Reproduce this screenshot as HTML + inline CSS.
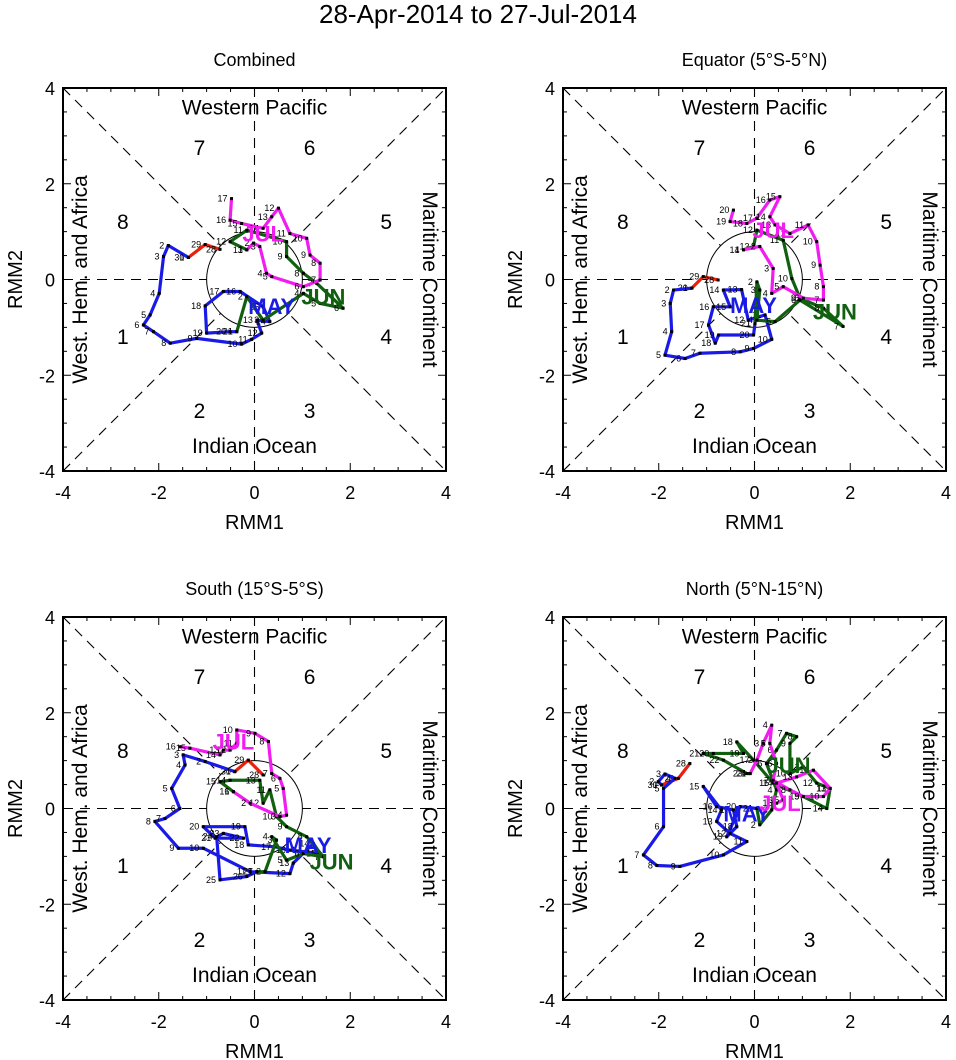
<!DOCTYPE html>
<html><head><meta charset="utf-8">
<style>
body{margin:0;background:#fff;}
svg{display:block;font-family:"Liberation Sans",Arial,sans-serif;}
</style></head>
<body>
<svg id="chart" width="956" height="1060" viewBox="0 0 956 1060" xmlns="http://www.w3.org/2000/svg">
<text x="478" y="23" font-size="26" text-anchor="middle">28-Apr-2014 to 27-Jul-2014</text>
</svg>
<script>
// ---- data (RMM1, RMM2 pairs) ----
const panelTitles = ["Combined", "Equator (5°S-5°N)", "South (15°S-5°S)", "North (5°N-15°N)"];
const tickValues = [-4, -2, 0, 2, 4];
const monthNames = ["APR", "MAY", "JUN", "JUL"];
const monthColors = ["#e8200c", "#1a1ae6", "#106010", "#f01cf0"];

const aprX = [[-0.72,-1.03,-1.38],[-0.76,-1.07,-1.31],[0.18,-0.13,-0.41],[-1.35,-1.59,-1.94]];
const aprY = [[0.63,0.73,0.46],[-0.01,0.06,-0.18],[0.70,1.01,0.77],[0.94,0.63,0.49]];

const mayX = [
 [-1.38,-1.80,-1.90,-1.99,-2.18,-2.32,-2.11,-1.76,-1.21,-0.27,-0.06,0.15,0.05,0.32,0.18,-0.30,-0.65,-1.03,-1.00,-0.51,-0.37],
 [-1.31,-1.69,-1.76,-1.73,-1.87,-1.45,-1.14,-0.30,-0.02,0.36,0.22,-0.13,-0.27,-0.65,-0.51,-0.86,-0.96,-0.82,-0.75,-0.02,0.01],
 [-0.41,-1.03,-1.49,-1.45,-1.73,-1.56,-1.87,-2.08,-1.59,-1.07,-0.09,0.74,0.81,1.23,1.37,0.74,0.43,-0.13,-0.20,-1.07,-0.82,-0.23,-0.65,-0.79,-0.72,-0.16,0.05],
 [-1.94,-2.01,-1.87,-1.66,-1.90,-1.90,-2.32,-2.04,-1.56,-0.65,-0.16,-0.51,-0.79,-0.69,-1.07,-0.79,-0.44,-0.37,-0.58,-0.30,0.05]
];
const mayY = [
 [0.46,0.71,0.48,-0.29,-0.74,-0.95,-1.09,-1.33,-1.23,-1.35,-1.25,-1.12,-0.85,-0.88,-0.57,-0.25,-0.25,-0.55,-1.12,-1.09,-1.09],
 [-0.18,-0.22,-0.50,-1.09,-1.58,-1.65,-1.54,-1.51,-1.44,-1.25,-0.74,-0.85,-0.21,-0.22,-0.57,-0.57,-0.95,-1.33,-1.16,-1.16,-0.92],
 [0.77,0.98,1.12,0.91,0.42,0.00,-0.21,-0.27,-0.83,-0.83,-1.32,-1.36,-1.14,-0.73,-0.94,-0.87,-0.80,-0.76,-0.38,-0.38,-0.62,-0.62,-0.52,-0.59,-1.49,-1.42,-1.32],
 [0.49,0.56,0.72,0.63,0.42,-0.38,-0.97,-1.19,-1.21,-0.97,-0.69,-0.52,-0.27,-0.03,0.46,0.04,-0.03,-0.38,-0.59,0.04,0.00]
];

const junX = [
 [-0.37,-0.16,0.18,1.02,1.37,1.85,1.30,1.02,0.67,0.67,-0.16,-0.51,-0.16],
 [0.01,0.05,0.11,0.05,0.43,0.95,1.85,1.44,0.95,0.78,0.60,0.05,-0.02,-0.23],
 [0.05,0.22,0.46,0.36,0.67,1.02,1.44,1.09,0.67,0.46,0.32,0.18,0.11,-0.51,-0.72,-0.44],
 [0.05,0.11,0.36,0.46,0.25,0.46,0.67,0.88,0.74,0.74,1.02,1.30,1.58,1.51,1.02,0.39,-0.02,-0.37,-0.23,-0.86,-1.07,-0.65,-0.16,-0.09]
];
const junY = [
 [-1.09,-0.36,-0.85,-0.29,-0.50,-0.60,-0.08,0.13,0.48,0.79,1.03,0.79,0.62],
 [-0.92,-0.05,-0.22,-0.85,-0.88,-0.43,-0.98,-0.60,-0.39,0.02,0.82,1.03,0.69,0.62],
 [-1.32,-1.32,-0.66,-0.59,-1.08,-0.94,-1.01,-0.59,-0.38,-0.17,0.39,0.11,0.59,0.59,0.56,0.35],
 [0.00,-0.34,-0.03,0.39,0.94,1.22,1.57,1.50,1.36,0.73,0.87,0.53,0.42,0.00,0.25,0.53,1.01,1.39,1.15,1.15,1.15,1.01,0.73,0.73]
];

const julX = [
 [-0.16,-0.02,0.11,0.25,0.36,1.02,1.37,1.37,1.16,1.09,0.74,0.50,0.36,0.18,-0.27,-0.51,-0.48],
 [-0.23,0.11,0.39,0.36,0.60,1.02,1.44,1.44,1.37,1.30,1.12,0.74,0.43,0.32,0.53,0.32,0.05,-0.16,-0.51,-0.44],
 [-0.44,-0.09,0.53,0.67,0.60,0.53,0.36,0.29,0.01,-0.37,-0.37,-0.51,-0.65,-0.72,-1.35,-1.56],
 [-0.09,0.05,0.18,0.36,0.32,0.46,0.39,0.74,1.02,1.44,1.58,1.23,0.88,0.46,0.60,0.46]
];
const julY = [
 [0.62,0.76,0.69,0.13,0.06,-0.15,-0.01,0.34,0.51,0.86,0.96,1.49,1.31,1.07,1.17,1.24,1.69],
 [0.62,0.69,0.23,-0.29,-0.15,-0.39,-0.43,-0.15,0.30,0.79,1.14,0.96,1.14,1.31,1.73,1.66,1.28,1.17,1.21,1.45],
 [0.35,0.11,-0.17,-0.14,0.42,0.63,0.73,1.40,1.57,1.64,1.36,1.22,1.22,1.12,1.26,1.29],
 [0.73,1.01,1.36,1.74,1.36,0.94,0.59,0.39,0.25,0.25,0.42,0.80,0.66,0.53,0.18,0.11]
];

const labelX = [[0.36,1.44,0.18],[-0.02,1.68,0.39],[1.12,1.61,-0.44],[-0.16,0.71,0.53]];
const labelY = [[-0.55,-0.36,0.96],[-0.53,-0.67,1.03],[-0.76,-1.11,1.40],[-0.10,0.91,0.11]];

// ---- drawing ----
const NS = "http://www.w3.org/2000/svg";
const svg = document.getElementById("chart");
const panelLeft = [63, 563, 63, 563];
const panelTop = [88, 88, 617, 617];
const SIZE = 383;
function mk(tag, attrs, parent) {
  const e = document.createElementNS(NS, tag);
  for (const k in attrs) e.setAttribute(k, attrs[k]);
  (parent || svg).appendChild(e);
  return e;
}
for (let p = 0; p < 4; p++) {
  const L = panelLeft[p], T = panelTop[p];
  const sx = v => L + (v + 4) / 8 * SIZE;
  const sy = v => T + (4 - v) / 8 * SIZE;
  const g = mk("g", {});
  
  
  const t = mk("text", {x: L + SIZE / 2, y: T - 22, "font-size": 18, "text-anchor": "middle"}, g);
  t.textContent = panelTitles[p];
  
  
  const dash = {stroke: "#000", "stroke-width": 1.1, "stroke-dasharray": "10,7", fill: "none"};
  const ds = [[-4,-4,4,4],[-4,4,4,-4],[-4,0,4,0],[0,-4,0,4]];
  ds.forEach(d => {
    const l = mk("line", Object.assign({x1: sx(d[0]), y1: sy(d[1]), x2: sx(d[2]), y2: sy(d[3])}, dash), g);
    
    
  });
  const c = mk("circle", {cx: sx(0), cy: sy(0), r: SIZE / 8, fill: "#fff", stroke: "#000", "stroke-width": 1}, g);
  
  
  const box = mk("rect", {x: L, y: T, width: SIZE, height: SIZE, fill: "none", stroke: "#000", "stroke-width": 2}, g);
  
  
  for (let v = -4; v <= 4.001; v += 0.5) {
    const major = Math.abs(v % 2) < 0.01;
    const len = major ? 8 : 4;
    mk("line", {x1: sx(v), y1: T + SIZE, x2: sx(v), y2: T + SIZE - len, stroke: "#000"}, g);
    mk("line", {x1: sx(v), y1: T, x2: sx(v), y2: T + len, stroke: "#000"}, g);
    mk("line", {x1: L, y1: sy(v), x2: L + len, y2: sy(v), stroke: "#000"}, g);
    mk("line", {x1: L + SIZE, y1: sy(v), x2: L + SIZE - len, y2: sy(v), stroke: "#000"}, g);
  }
  tickValues.forEach(v => {
    const tx = mk("text", {x: sx(v), y: T + SIZE + 28, "font-size": 18, "text-anchor": "middle"}, g);
    tx.textContent = v;
    
    
    const ty = mk("text", {x: L - 8, y: sy(v) + 7, "font-size": 18, "text-anchor": "end"}, g);
    ty.textContent = v;
    
    
  });
  const xt = mk("text", {x: L + SIZE / 2, y: T + SIZE + 58, "font-size": 20, "text-anchor": "middle"}, g);
  xt.textContent = "RMM1";
  
  
  const yt = mk("text", {x: 0, y: 0, "font-size": 20, "text-anchor": "middle", transform: `translate(${L - 41},${T + SIZE / 2}) rotate(-90)`}, g);
  yt.textContent = "RMM2";
  
  
  const wp = mk("text", {x: sx(0), y: sy(3.45), "font-size": 21, "text-anchor": "middle"}, g);
  wp.textContent = "Western Pacific";
  
  
  const io = mk("text", {x: sx(0), y: sy(-3.62), "font-size": 21, "text-anchor": "middle"}, g);
  io.textContent = "Indian Ocean";
  
  
  const wh = mk("text", {x: 0, y: 0, "font-size": 21, "text-anchor": "middle", transform: `translate(${sx(-3.5)},${sy(0)}) rotate(-90)`}, g);
  wh.textContent = "West. Hem. and Africa";
  
  
  const mc = mk("text", {x: 0, y: 0, "font-size": 21, "text-anchor": "middle", transform: `translate(${sx(3.52)},${sy(0)}) rotate(90)`}, g);
  mc.textContent = "Maritime Continent";
  
  
  const phases = [[1,-2.75,-1.2],[2,-1.15,-2.75],[3,1.15,-2.75],[4,2.75,-1.2],[5,2.75,1.2],[6,1.15,2.75],[7,-1.15,2.75],[8,-2.75,1.2]];
  phases.forEach(ph => {
    const pt = mk("text", {x: sx(ph[1]), y: sy(ph[2]) + 7, "font-size": 21, "text-anchor": "middle"}, g);
    pt.textContent = ph[0];
    
    
  });
  const sets = [[aprX, aprY], [mayX, mayY], [junX, junY], [julX, julY]];
  sets.forEach((s, m) => {
    const xs = s[0][p], ys = s[1][p];
    const pts = xs.map((v, i) => sx(v) + "," + sy(ys[i])).join(" ");
    const pl = mk("polyline", {points: pts, fill: "none", stroke: monthColors[m], "stroke-width": 3.2, "stroke-linejoin": "round"}, g);
    
    
    xs.forEach((v, i) => {
      mk("rect", {x: sx(v) - 1.5, y: sy(ys[i]) - 1.5, width: 3, height: 3, fill: "#000"}, g);
      const dl = mk("text", {x: sx(v) - 4, y: sy(ys[i]) + 3, "font-size": 9, "text-anchor": "end"}, g);
      dl.textContent = (m === 0 ? 28 : 1) + i;
      
      
    });
  });
  for (let m = 0; m < 3; m++) {
    const ml = mk("text", {x: sx(labelX[p][m]), y: sy(labelY[p][m]) + 8, "font-size": 22, "font-weight": "bold", fill: monthColors[m + 1], "text-anchor": "middle"}, g);
    ml.textContent = monthNames[m + 1];
    
    
  }
}
</script>
</body></html>
